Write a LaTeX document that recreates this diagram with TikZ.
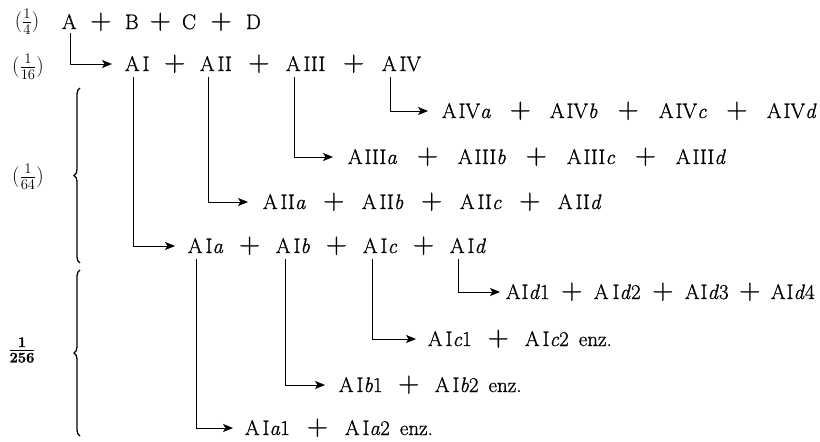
\RequirePackage{fix-cm}
\documentclass[tikz,border=0pt]{standalone}
\usepackage{fontspec}
\setmainfont{Latin Modern Roman}[FakeBold=0.9]
\usetikzlibrary{arrows.meta,calc,decorations.pathreplacing}
\newcommand{\bigfont}{\fontsize{21}{25}\selectfont}
\newcommand{\plusfont}{\fontsize{29}{29}\selectfont}
\newcommand{\iv}[1]{\textit{#1}}
\tikzset{
  trm/.style={inner sep=0pt, outer sep=0pt, anchor=base west, font=\bigfont, text height=14pt, text depth=0pt},
  pls/.style={inner sep=0pt, outer sep=0pt, anchor=base, font=\plusfont},
  con/.style={line width=0.6pt, -{Stealth[length=10pt,width=8pt,inset=2.5pt]}},
  lbl/.style={font=\bigfont, inner sep=0pt},
  brc/.style={decorate, decoration={brace, amplitude=6pt}, line width=1.3pt},
}
\begin{document}
\begin{tikzpicture}[x=1pt,y=-1pt]
\fill[white] (0,0) rectangle (820,442);
\useasboundingbox (0,0) rectangle (820,442);

% labels
\node[lbl] (l1) at (27,22) {$(\frac{1}{4})$};
\node[lbl] (l2) at (28,67) {$(\frac{1}{16})$};
\node[lbl] (l3) at (28,177) {$(\frac{1}{64})$};
\node[lbl] (l4) at (22,350) {$\frac{\mathbf{1}}{\mathbf{256}}$};

% braces
\coordinate (b1a) at (80,263);
\coordinate (b1b) at (80,88);
\coordinate (b2a) at (80,436);
\coordinate (b2b) at (80,270);
\draw[brc] (b1a) -- (b1b);
\draw[brc] (b2a) -- (b2b);

% row 1
\node[trm] (nA) at (62,29) {A};
\node[trm] (nB) at (125,29) {B};
\node[trm] (nC) at (182,29) {C};
\node[trm] (nD) at (246,29) {D};
\node[pls] (p11) at ($(nA.base east)!0.5!(nB.base west)$) {+};
\node[pls] (p12) at ($(nB.base east)!0.5!(nC.base west)$) {+};
\node[pls] (p13) at ($(nC.base east)!0.5!(nD.base west)$) {+};

% row 2
\node[trm] (AI) at (125,71) {A\kern3pt I};
\node[trm] (AII) at (200,71) {A\kern3pt II};
\node[trm] (AIII) at (286,71) {A\kern3pt III};
\node[trm] (AIV) at (382,71) {A\kern3pt IV};
\node[pls] (p21) at ($(AI.base east)!0.5!(AII.base west)$) {+};
\node[pls] (p22) at ($(AII.base east)!0.5!(AIII.base west)$) {+};
\node[pls] (p23) at ($(AIII.base east)!0.5!(AIV.base west)$) {+};

% row IV
\node[trm] (AIVa) at (442,118) {A\kern2pt IV\iv{a}};
\node[trm] (AIVb) at (550,118) {A\kern2pt IV\iv{b}};
\node[trm] (AIVc) at (659,118) {A\kern2pt IV\iv{c}};
\node[trm] (AIVd) at (767,118) {A\kern2pt IV\iv{d}};
\node[pls] (p41) at ($(AIVa.base east)!0.5!(AIVb.base west)$) {+};
\node[pls] (p42) at ($(AIVb.base east)!0.5!(AIVc.base west)$) {+};
\node[pls] (p43) at ($(AIVc.base east)!0.5!(AIVd.base west)$) {+};

% row III
\node[trm] (AIIIa) at (348,164) {A\kern2pt III\iv{a}};
\node[trm] (AIIIb) at (458,164) {A\kern2pt III\iv{b}};
\node[trm] (AIIIc) at (567,164) {A\kern2pt III\iv{c}};
\node[trm] (AIIId) at (676,164) {A\kern2pt III\iv{d}};
\node[pls] (p31) at ($(AIIIa.base east)!0.5!(AIIIb.base west)$) {+};
\node[pls] (p32) at ($(AIIIb.base east)!0.5!(AIIIc.base west)$) {+};
\node[pls] (p33) at ($(AIIIc.base east)!0.5!(AIIId.base west)$) {+};

% row II
\node[trm] (AIIa) at (263,209) {A\kern3pt II\iv{a}};
\node[trm] (AIIb) at (362,209) {A\kern3pt II\iv{b}};
\node[trm] (AIIc) at (460,209) {A\kern3pt II\iv{c}};
\node[trm] (AIId) at (558,209) {A\kern3pt II\iv{d}};
\node[pls] (p51) at ($(AIIa.base east)!0.5!(AIIb.base west)$) {+};
\node[pls] (p52) at ($(AIIb.base east)!0.5!(AIIc.base west)$) {+};
\node[pls] (p53) at ($(AIIc.base east)!0.5!(AIId.base west)$) {+};

% row I
\node[trm] (AIa) at (188,253) {A\kern3pt I\iv{a}};
\node[trm] (AIb) at (276,253) {A\kern3pt I\iv{b}};
\node[trm] (AIc) at (363,253) {A\kern3pt I\iv{c}};
\node[trm] (AId) at (450,253) {A\kern3pt I\iv{d}};
\node[pls] (p61) at ($(AIa.base east)!0.5!(AIb.base west)$) {+};
\node[pls] (p62) at ($(AIb.base east)!0.5!(AIc.base west)$) {+};
\node[pls] (p63) at ($(AIc.base east)!0.5!(AId.base west)$) {+};

% row Id
\node[trm] (AId1) at (506,299) {A\kern1pt I\iv{d}1};
\node[trm] (AId2) at (594,299) {A\kern4pt I\iv{d}2};
\node[trm] (AId3) at (685,299) {A\kern1pt I\iv{d}3};
\node[trm] (AId4) at (771,299) {A\kern1pt I\iv{d}4};
\node[pls] (p71) at ($(AId1.base east)!0.5!(AId2.base west)$) {+};
\node[pls] (p72) at ($(AId2.base east)!0.5!(AId3.base west)$) {+};
\node[pls] (p73) at ($(AId3.base east)!0.5!(AId4.base west)$) {+};

% row Ic
\node[trm] (AIc1) at (428,346) {A\kern3pt I\iv{c}1};
\node[trm] (AIc2) at (525,346) {A\kern3pt I\iv{c}2\kern10pt enz.};
\node[pls] (p81) at ($(AIc1.base east)!0.5!(AIc2.base west)$) {+};

% row Ib
\node[trm] (AIb1) at (339,392) {A\kern3pt I\iv{b}1};
\node[trm] (AIb2) at (435,392) {A\kern3pt I\iv{b}2\kern10pt enz.};
\node[pls] (p91) at ($(AIb1.base east)!0.5!(AIb2.base west)$) {+};

% row Ia
\node[trm] (AIa1) at (245,435) {A\kern3pt I\iv{a}1};
\node[trm] (AIa2) at (345,435) {A\kern3pt I\iv{a}2\kern10pt enz.};
\node[pls] (p01) at ($(AIa1.base east)!0.5!(AIa2.base west)$) {+};

% connectors
\draw[con] ([xshift=8pt,yshift=-4pt]nA.south west) |- ([xshift=-13pt]AI.west);
\draw[con] ([xshift=8pt,yshift=-6pt]AIV.south west) |- ([xshift=-14pt]AIVa.west);
\draw[con] ([xshift=8pt,yshift=-6pt]AIII.south west) |- ([xshift=-15pt]AIIIa.west);
\draw[con] ([xshift=8pt,yshift=-6pt]AII.south west) |- ([xshift=-15pt]AIIa.west);
\draw[con] ([xshift=8pt,yshift=-6pt]AI.south west) |- ([xshift=-13pt]AIa.west);
\draw[con] ([xshift=8pt,yshift=-6pt]AId.south west) |- ([xshift=-6pt]AId1.west);
\draw[con] ([xshift=9pt,yshift=-6pt]AIc.south west) |- ([xshift=-12pt]AIc1.west);
\draw[con] ([xshift=9pt,yshift=-6pt]AIb.south west) |- ([xshift=-14pt]AIb1.west);
\draw[con] ([xshift=8pt,yshift=-6pt]AIa.south west) |- ([xshift=-12pt]AIa1.west);
\end{tikzpicture}
\end{document}
